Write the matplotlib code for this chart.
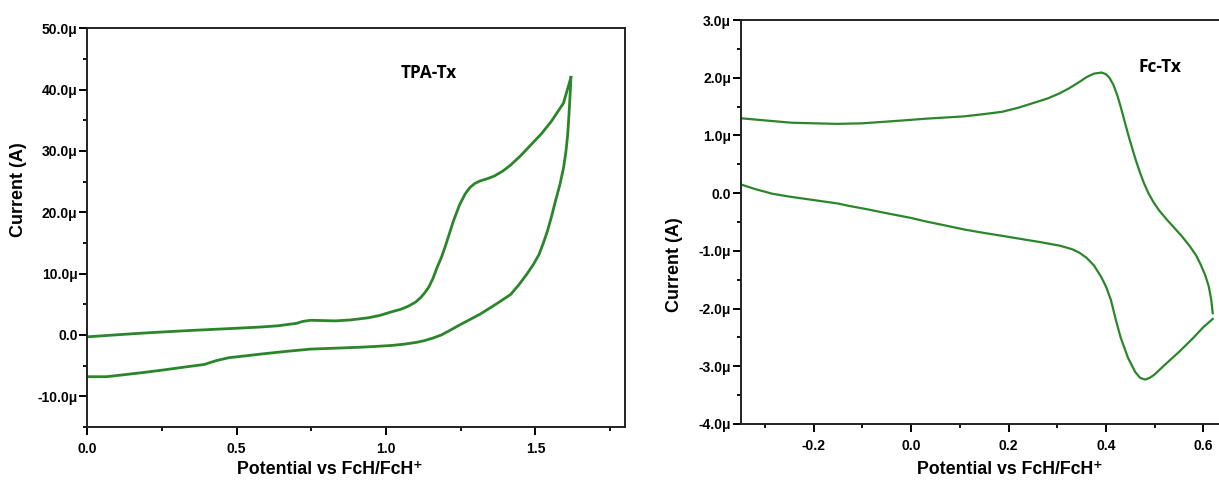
import matplotlib
matplotlib.use("Agg")
import matplotlib.pyplot as plt
from matplotlib.ticker import MultipleLocator, FuncFormatter

# ---- TPA-Tx data (potential V, current µA) ----
tpa_fwd_x = [0.0, 0.06, 0.12, 0.2, 0.255, 0.35, 0.5, 0.58, 0.638, 0.7, 0.72, 0.747, 0.79, 0.83, 0.88,
             0.94, 0.98, 1.02, 1.05, 1.075, 1.1, 1.116, 1.13, 1.143, 1.157, 1.17, 1.185, 1.198, 1.212, 1.225,
             1.246, 1.265, 1.28, 1.297, 1.314, 1.34, 1.362, 1.39, 1.417, 1.45, 1.485, 1.52, 1.553,
             1.594, 1.619]
tpa_fwd_y = [-0.3, -0.1, 0.1, 0.35, 0.5, 0.75, 1.1, 1.3, 1.5, 1.9, 2.2, 2.4, 2.35, 2.3, 2.45,
             2.8, 3.2, 3.8, 4.2, 4.7, 5.4, 6.1, 6.9, 7.8, 9.2, 10.9, 12.6, 14.4, 16.5, 18.5,
             21.2, 23.0, 24.0, 24.7, 25.1, 25.5, 25.9, 26.7, 27.7, 29.2, 31.0, 32.8, 34.8,
             37.8, 42.0]
tpa_rev_x = [1.619, 1.617, 1.615, 1.612, 1.608, 1.602, 1.594, 1.582, 1.567, 1.554, 1.54, 1.526, 1.512,
             1.492, 1.471, 1.445, 1.417, 1.38, 1.348, 1.315, 1.28, 1.245, 1.212, 1.185, 1.157, 1.13,
             1.102, 1.06, 1.02, 0.97, 0.911, 0.83, 0.747, 0.66, 0.583, 0.53, 0.474, 0.43, 0.392, 0.33,
             0.255, 0.19, 0.119, 0.064, 0.0]
tpa_rev_y = [42.0, 40.0, 38.1, 35.5, 32.6, 29.8, 27.2, 24.5, 21.8, 19.3, 16.9, 14.9, 13.1,
             11.4, 9.9, 8.2, 6.6, 5.4, 4.4, 3.4, 2.5, 1.6, 0.7, 0.0, -0.5, -0.9,
             -1.2, -1.5, -1.7, -1.85, -2.0, -2.15, -2.3, -2.7, -3.1, -3.4, -3.7, -4.2, -4.8, -5.2,
             -5.7, -6.1, -6.5, -6.8, -6.8]

# ---- Fc-Tx data (potential V, current µA) ----
fc_fwd_x = [-0.353, -0.3, -0.245, -0.2, -0.151, -0.1, -0.049, 0.0, 0.03, 0.07, 0.108, 0.15, 0.187,
            0.22, 0.25, 0.28, 0.305, 0.325, 0.344, 0.36, 0.375, 0.391, 0.4, 0.407, 0.415, 0.423, 0.43,
            0.438, 0.446, 0.454, 0.462, 0.47, 0.478, 0.487, 0.497, 0.509, 0.525, 0.54, 0.556, 0.572,
            0.585, 0.595, 0.604, 0.611, 0.616, 0.619]
fc_fwd_y = [1.30, 1.26, 1.22, 1.21, 1.20, 1.21, 1.24, 1.27, 1.29, 1.31, 1.33, 1.37, 1.41,
            1.48, 1.56, 1.64, 1.73, 1.82, 1.92, 2.01, 2.07, 2.09, 2.06, 2.00, 1.88, 1.70, 1.50,
            1.25, 1.00, 0.77, 0.55, 0.35, 0.17, 0.0, -0.15, -0.30, -0.46, -0.60, -0.75, -0.92,
            -1.08, -1.25, -1.43, -1.62, -1.85, -2.08]
fc_rev_x = [0.619, 0.6, 0.58, 0.55, 0.52, 0.5, 0.49, 0.48, 0.47, 0.46, 0.445, 0.43, 0.42,
            0.41, 0.4, 0.39, 0.375, 0.36, 0.345, 0.33, 0.305, 0.266, 0.23, 0.187, 0.15, 0.109,
            0.07, 0.03, 0.0, -0.049, -0.09, -0.128, -0.15, -0.2, -0.25, -0.285, -0.32, -0.353]
fc_rev_y = [-2.18, -2.32, -2.50, -2.75, -2.98, -3.14, -3.20, -3.23, -3.20, -3.10, -2.85, -2.50, -2.19,
            -1.85, -1.62, -1.45, -1.25, -1.12, -1.03, -0.97, -0.91, -0.85, -0.80, -0.74, -0.69, -0.63,
            -0.56, -0.49, -0.43, -0.35, -0.28, -0.22, -0.18, -0.12, -0.06, -0.01, 0.07, 0.16]

green = "#2b862b"

plt.rcParams["font.family"] = ["Liberation Sans", "DejaVu Sans"]

W, H = 1219, 480
fig = plt.figure(figsize=(W / 100, H / 100), dpi=100)
L1, R1, T1, B1 = 87.3, 625.0, 28.3, 427.0
L2, R2, T2, B2 = 740.6, 1240.0, 20.0, 424.0
ax1 = fig.add_axes([L1 / W, 1 - B1 / H, (R1 - L1) / W, (B1 - T1) / H])
ax2 = fig.add_axes([L2 / W, 1 - B2 / H, (R2 - L2) / W, (B2 - T2) / H])

def mu_fmt(v, pos):
    if abs(v) < 1e-9:
        return "0.0"
    return f"{v:.1f}\u03bc"

def style(ax):
    for s in ax.spines.values():
        s.set_linewidth(1.4)
        s.set_color("#222222")
    ax.tick_params(which="major", direction="out", length=5.5, width=1.4, labelsize=10)
    ax.tick_params(which="minor", direction="out", length=2.8, width=1.3)
    ax.tick_params(axis="y", which="major", pad=1.5)
    ax.tick_params(axis="x", which="major", pad=5)
    for lab in ax.get_xticklabels() + ax.get_yticklabels():
        lab.set_fontweight("bold")

xlabel_txt = "Potential vs FcH/FcH\u207a"

# Left: TPA-Tx
ax1.plot(tpa_fwd_x, tpa_fwd_y, color=green, lw=2.0)
ax1.plot(tpa_rev_x, tpa_rev_y, color=green, lw=2.0)
ax1.set_xlim(0, 1.8)
ax1.set_ylim(-15, 50)
ax1.xaxis.set_major_locator(MultipleLocator(0.5))
ax1.xaxis.set_minor_locator(MultipleLocator(0.25))
ax1.yaxis.set_major_locator(MultipleLocator(10))
ax1.yaxis.set_minor_locator(MultipleLocator(5))
ax1.yaxis.set_major_formatter(FuncFormatter(mu_fmt))
ax1.xaxis.set_major_formatter(FuncFormatter(lambda v, p: f"{v:.1f}"))
style(ax1)
ax1.set_xlabel(xlabel_txt, fontsize=12.8, fontweight="bold")
ax1.xaxis.set_label_coords((330 - L1) / (R1 - L1), (B1 - 461) / (B1 - T1))
ax1.set_ylabel("Current (A)", fontsize=13, fontweight="bold")
ax1.yaxis.set_label_coords((27 - L1) / (R1 - L1), (B1 - 190) / (B1 - T1))
ax1.text(1.144, 42.75, "TPA-Tx", fontsize=12.3, fontweight="bold", family=["Open Sans", "DejaVu Sans"],
         ha="center", va="center")

# Right: Fc-Tx
ax2.plot(fc_fwd_x, fc_fwd_y, color=green, lw=1.6)
ax2.plot(fc_rev_x, fc_rev_y, color=green, lw=1.6)
ax2.set_xlim(-0.35, 0.675)
ax2.set_ylim(-4, 3)
ax2.xaxis.set_major_locator(MultipleLocator(0.2))
ax2.xaxis.set_minor_locator(MultipleLocator(0.1))
ax2.yaxis.set_major_locator(MultipleLocator(1))
ax2.yaxis.set_minor_locator(MultipleLocator(0.5))
ax2.yaxis.set_major_formatter(FuncFormatter(mu_fmt))
ax2.xaxis.set_major_formatter(FuncFormatter(lambda v, p: f"{v:.1f}"))
style(ax2)
ax2.set_xlabel(xlabel_txt, fontsize=12.8, fontweight="bold")
ax2.xaxis.set_label_coords((1010 - L2) / (R2 - L2), (B2 - 461) / (B2 - T2))
ax2.set_ylabel("Current (A)", fontsize=13, fontweight="bold")
ax2.yaxis.set_label_coords((683 - L2) / (R2 - L2), (B2 - 265) / (B2 - T2))
ax2.text(0.51, 2.18, "Fc-Tx", fontsize=12.5, fontweight="bold", family=["Open Sans", "DejaVu Sans"],
         ha="center", va="center")

fig.savefig("out.png", dpi=100)
